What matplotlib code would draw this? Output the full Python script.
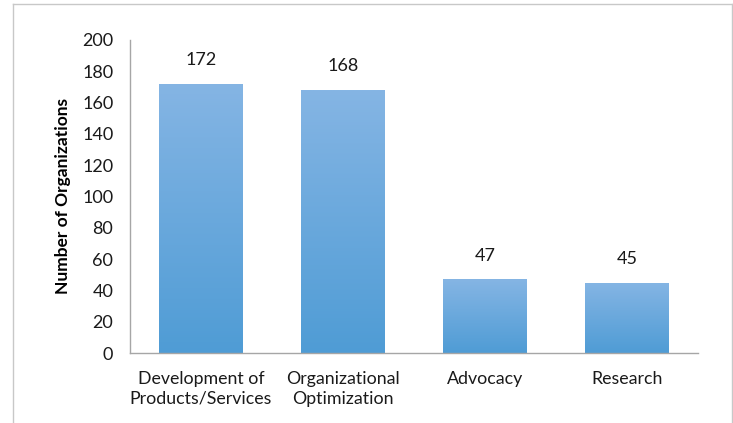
import matplotlib.pyplot as plt
import numpy as np
from matplotlib.colors import LinearSegmentedColormap

# Chart data
categories = ['Development of\nProducts/Services', 'Organizational\nOptimization', 'Advocacy', 'Research']
counts = [172, 168, 47, 45]
y_ticks = [0, 20, 40, 60, 80, 100, 120, 140, 160, 180, 200]

plt.rcParams['font.family'] = ['Lato', 'DejaVu Sans']

fig = plt.figure(figsize=(7.33, 4.23), dpi=100)
ax = fig.add_axes([130 / 733, 1 - 353 / 423, (698 - 130) / 733, (353 - 40) / 423])

# Bars with vertical gradient (light top, darker bottom)
cmap = LinearSegmentedColormap.from_list('grad', ['#4f9cd5', '#85b5e4'])
x = np.arange(len(categories))
bars = ax.bar(x, counts, width=0.585, color='none', edgecolor='none')
grad = np.linspace(0, 1, 256).reshape(-1, 1)
for b in bars:
    bx, by = b.get_x(), b.get_y()
    w, h = b.get_width(), b.get_height()
    im = ax.imshow(grad, cmap=cmap, aspect='auto', origin='lower',
                   extent=[bx, bx + w, by, by + h], zorder=2)
    im.set_clip_path(b)

# Value labels
for xi, v in zip(x, counts):
    ax.annotate(str(v), (xi, v), xytext=(0, 17), textcoords='offset points',
                ha='center', va='center', fontsize=13, color='#1a1a1a')

ax.set_xlim(-0.5, len(categories) - 0.5)
ax.set_ylim(0, 200)
ax.set_yticks(y_ticks)
ax.set_xticks(x)
ax.set_xticklabels(categories, fontsize=12.8, color='#1a1a1a', linespacing=1.3)
ax.tick_params(axis='y', labelsize=13, length=0, pad=12, labelcolor='#1a1a1a')
ax.tick_params(axis='x', length=0, pad=13)
ax.set_ylabel('Number of Organizations', fontsize=12.5, fontweight='bold', labelpad=8)

for s in ['top', 'right']:
    ax.spines[s].set_visible(False)
for s in ['left', 'bottom']:
    ax.spines[s].set_color('#a6a6a6')
    ax.spines[s].set_linewidth(1)

# Outer border of the chart area
fig.add_artist(plt.Line2D([13 / 733, 13 / 733], [0, 1 - 4 / 423], transform=fig.transFigure, color='#c8c8c8', lw=1))
fig.add_artist(plt.Line2D([13 / 733, 732 / 733], [1 - 4 / 423, 1 - 4 / 423], transform=fig.transFigure, color='#c8c8c8', lw=1))
fig.add_artist(plt.Line2D([732 / 733, 732 / 733], [0, 1 - 4 / 423], transform=fig.transFigure, color='#c8c8c8', lw=1))

fig.savefig('out.png', dpi=100)
